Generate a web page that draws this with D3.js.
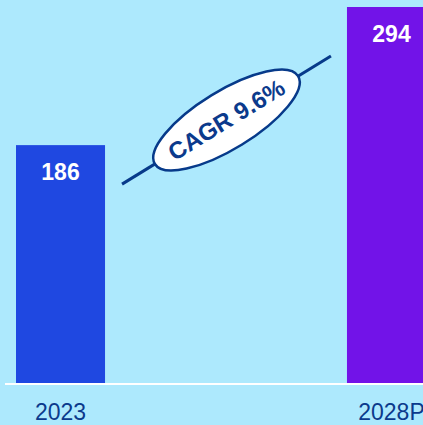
<!DOCTYPE html>
<html>
<head>
<meta charset="utf-8">
<script src="https://cdn.jsdelivr.net/npm/d3@7"></script>
<style>
  html, body { margin: 0; padding: 0; background: #ade9fd; overflow: hidden; }
  svg { display: block; }
</style>
</head>
<body>
<div id="chart"></div>
<script>
var width = 423,
    height = 425,
    years = ["2023", "2028P"],
    values = [186, 294],
    barColors = ["#1f48e1", "#7213e8"],
    cagrText = "CAGR 9.6%",
    navy = "#0b3a8c";

var svg = d3.select("#chart").append("svg")
    .attr("width", width)
    .attr("height", height);

var x = d3.scaleBand()
    .domain(years)
    .range([16, 436])
    .paddingInner(0.731)
    .paddingOuter(0);

var y = d3.scaleLinear()
    .domain([0, 294])
    .range([383, 7]);

// bars
svg.selectAll("rect.bar").data(values).enter().append("rect")
    .attr("class", "bar")
    .attr("x", function(d, i) { return x(years[i]); })
    .attr("y", function(d) { return y(d); })
    .attr("width", x.bandwidth())
    .attr("height", function(d) { return y(0) - y(d); })
    .attr("fill", function(d, i) { return barColors[i]; });

// value labels
svg.selectAll("text.val").data(values).enter().append("text")
    .attr("class", "val")
    .attr("x", function(d, i) { return x(years[i]) + x.bandwidth() / 2; })
    .attr("y", function(d) { return y(d) + 35; })
    .attr("text-anchor", "middle")
    .attr("font-family", "Liberation Sans, Arial, sans-serif")
    .attr("font-weight", "bold")
    .attr("font-size", 23)
    .attr("fill", "#ffffff")
    .text(function(d) { return d; });

// baseline
svg.append("line")
    .attr("x1", 5).attr("x2", width)
    .attr("y1", y(0) + 1).attr("y2", y(0) + 1)
    .attr("stroke", "#ffffff")
    .attr("stroke-width", 2);

// category labels
var axis = d3.axisBottom(x).tickSize(0).tickPadding(20);
var ax = svg.append("g")
    .attr("transform", "translate(0," + (y(0) + 1) + ")")
    .call(axis);
ax.select(".domain").remove();
ax.selectAll("text")
    .attr("font-family", "Liberation Sans, Arial, sans-serif")
    .attr("font-size", 23)
    .attr("fill", navy);

// CAGR arrow line with ellipse badge
var x1 = x(years[0]) + x.bandwidth() + 17,
    y1 = y(values[0]) + 39,
    x2 = x(years[1]) - 16,
    y2 = y(values[1]) + 49;

svg.append("line")
    .attr("x1", x1).attr("y1", y1)
    .attr("x2", x2).attr("y2", y2)
    .attr("stroke", "#073a8a")
    .attr("stroke-width", 3);

var cx = (x1 + x2) / 2,
    cy = (y1 + y2) / 2,
    angle = Math.atan2(y2 - y1, x2 - x1) * 180 / Math.PI;

var badge = svg.append("g")
    .attr("transform", "translate(" + cx + "," + cy + ") rotate(" + angle + ")");

badge.append("ellipse")
    .attr("rx", 84)
    .attr("ry", 29)
    .attr("fill", "#ffffff")
    .attr("stroke", "#073a8a")
    .attr("stroke-width", 2.5);

badge.append("text")
    .attr("x", 0)
    .attr("y", 8)
    .attr("text-anchor", "middle")
    .attr("font-family", "Liberation Sans, Arial, sans-serif")
    .attr("font-weight", "bold")
    .attr("font-size", 24)
    .attr("fill", navy)
    .text(cagrText);
</script>
</body>
</html>
